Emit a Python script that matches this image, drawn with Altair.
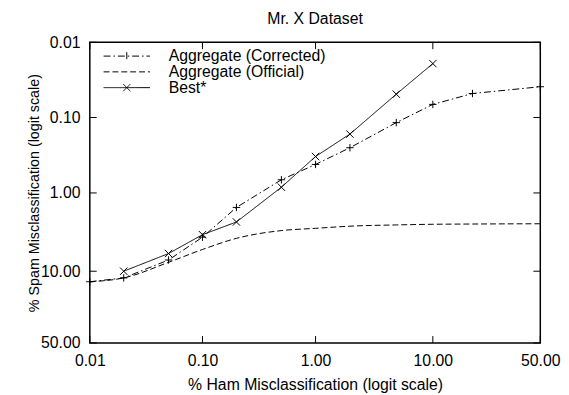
import math
import altair as alt
import pandas as pd

# ---- data (percent values) ----
series_names = ["Aggregate (Corrected)", "Aggregate (Official)", "Best*"]

corrected_ham = [0.01, 0.02, 0.05, 0.1, 0.2, 0.5, 1, 2, 5, 10, 20, 50]
corrected_spam = [13.3, 12.0, 7.3, 3.77, 1.55, 0.67, 0.42, 0.252, 0.117, 0.067, 0.048, 0.039]

official_ham = [0.01, 0.02, 0.05, 0.1, 0.2, 0.5, 1, 2, 5, 10, 20, 50]
official_spam = [13.3, 12.0, 7.8, 5.4, 3.9, 3.1, 2.9, 2.72, 2.62, 2.57, 2.55, 2.53]

best_ham = [0.02, 0.05, 0.1, 0.2, 0.5, 1, 2, 5, 10]
best_spam = [10.0, 6.07, 3.5, 2.4, 0.84, 0.33, 0.166, 0.049, 0.0192]

tick_pcts = [0.01, 0.1, 1, 10, 50]

title_text = "Mr. X Dataset"
x_title = "% Ham Misclassification (logit scale)"
y_title = "% Spam Misclassification (logit scale)"

# ---- tables ----
rows = []
for name, hs, ss in [
    (series_names[0], corrected_ham, corrected_spam),
    (series_names[1], official_ham, official_spam),
    (series_names[2], best_ham, best_spam),
]:
    for h, s in zip(hs, ss):
        rows.append({"series": name, "ham": h, "spam": s})
df = pd.DataFrame(rows)
ticks_df = pd.DataFrame({"pct": tick_pcts})


def logit_pct(p):
    q = p / 100.0
    return math.log(q / (1 - q))


tick_vals = [logit_pct(p) for p in tick_pcts]
dom = [logit_pct(min(tick_pcts)), logit_pct(max(tick_pcts))]

W, H = 457, 305
FONT = "Liberation Sans"
FS = 16
label_expr = "format(100/(1+exp(-datum.value)), '.2f')"

axis_style = dict(
    ticks=False, domain=False, grid=False, labelFlush=False, labelOverlap=False,
    labelFont=FONT, titleFont=FONT, labelFontSize=FS,
    labelColor="black", titleColor="black", titleFontWeight="normal",
)

x_enc = alt.X(
    "lx:Q",
    scale=alt.Scale(domain=dom, nice=False, zero=False),
    axis=alt.Axis(values=tick_vals, labelExpr=label_expr, title=x_title,
                  titleFontSize=FS, labelPadding=10, titlePadding=8, **axis_style),
)
y_enc = alt.Y(
    "ly:Q",
    scale=alt.Scale(domain=dom, nice=False, zero=False, reverse=True),
    axis=alt.Axis(values=tick_vals, labelExpr=label_expr, title=y_title,
                  titleFontSize=14.5, labelPadding=10, titlePadding=-1, **axis_style),
)

plus_path = "M-1,0H1M0,-1V1"
cross_path = "M-1,-1L1,1M-1,1L1,-1"

leg_corr = "M-3.92,0H3.92M0,-0.65V0.65"
leg_off = "M-3.92,0H3.92"
leg_best = "M-3.92,0H3.92M-0.6,-0.6L0.6,0.6M-0.6,0.6L0.6,-0.6"
shape_signal = (
    "datum.value === '" + series_names[2] + "' ? '" + leg_best + "' : "
    "datum.value === '" + series_names[0] + "' ? '" + leg_corr + "' : '" + leg_off + "'"
)

dash_enc = alt.StrokeDash(
    "series:N",
    scale=alt.Scale(domain=series_names, range=[[7, 3, 1.5, 3], [6, 3], [1, 0]]),
    sort=series_names,
    legend=alt.Legend(
        title=None, orient="none", legendX=12, legendY=6,
        symbolSize=144, symbolStrokeColor="black", symbolStrokeWidth=1,
        symbolFillColor="transparent", symbolOffset=17.5, labelOffset=34.5,
        rowPadding=-6, labelFontSize=FS, labelFont=FONT, labelColor="black",
        symbolType=alt.ExprRef(expr=shape_signal),
    ),
)

base = alt.Chart(df).transform_calculate(
    lx="log(datum.ham/(100-datum.ham))",
    ly="log(datum.spam/(100-datum.spam))",
)

lines_straight = base.transform_filter(
    f"datum.series !== '{series_names[1]}'"
).mark_line(color="black", strokeWidth=1).encode(
    x=x_enc, y=y_enc, strokeDash=dash_enc, detail="series:N"
)

line_smooth = base.transform_filter(
    f"datum.series === '{series_names[1]}'"
).mark_line(color="black", strokeWidth=1, interpolate="monotone").encode(
    x=x_enc, y=y_enc, strokeDash=dash_enc
)

points = base.transform_filter(
    f"datum.series !== '{series_names[1]}'"
).mark_point(filled=False, color="black", strokeWidth=1, size=56, opacity=1).encode(
    x=x_enc, y=y_enc,
    shape=alt.Shape(
        "series:N",
        scale=alt.Scale(domain=[series_names[0], series_names[2]], range=[plus_path, cross_path]),
        legend=None,
    ),
)

tick_base = alt.Chart(ticks_df).transform_calculate(
    lx="log(datum.pct/(100-datum.pct))",
    ly="log(datum.pct/(100-datum.pct))",
)
TL = 7
ticks_bottom = tick_base.mark_rule(color="black", strokeWidth=1).encode(
    x=x_enc, y=alt.value(H), y2=alt.value(H - TL)
)
ticks_top = tick_base.mark_rule(color="black", strokeWidth=1).encode(
    x=x_enc, y=alt.value(0), y2=alt.value(TL)
)
ticks_left = tick_base.mark_rule(color="black", strokeWidth=1).encode(
    y=y_enc, x=alt.value(0), x2=alt.value(TL)
)
ticks_right = tick_base.mark_rule(color="black", strokeWidth=1).encode(
    y=y_enc, x=alt.value(W), x2=alt.value(W - TL)
)

chart = alt.layer(
    ticks_bottom, ticks_top, ticks_left, ticks_right,
    line_smooth, lines_straight, points,
).properties(
    width=W, height=H,
    background="white",
    title=alt.TitleParams(title_text, font=FONT, fontSize=FS, fontWeight="normal",
                          color="black", anchor="middle", offset=8),
    autosize=alt.AutoSizeParams(type="none"),
    padding={"left": 83, "top": 32, "right": 21, "bottom": 49},
).configure_view(
    stroke="black", strokeWidth=1.5
)

chart.save("out.html", embed_options={"renderer": "svg", "actions": False})
